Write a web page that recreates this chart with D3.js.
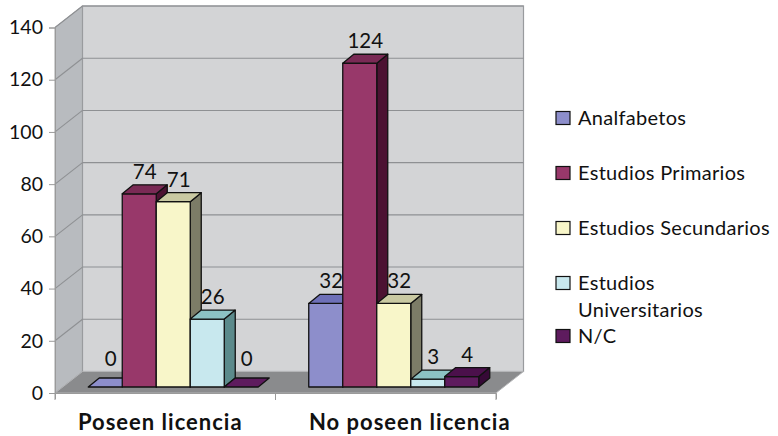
<!DOCTYPE html>
<html><head><meta charset="utf-8">
<script src="https://cdn.jsdelivr.net/npm/d3@7"></script>
<style>
html,body{margin:0;padding:0;background:#fff;}
svg{display:block;font-family:Lato,"Open Sans",sans-serif;}
</style></head>
<body><svg id="c" width="778" height="436"></svg>
<script>
const categories = ["Poseen licencia", "No poseen licencia"];
const seriesNames = ["Analfabetos", "Estudios Primarios", "Estudios Secundarios", "Estudios Universitarios", "N/C"];
const analfabetos = [0, 32];
const primarios = [74, 124];
const secundarios = [71, 32];
const universitarios = [26, 3];
const nc = [0, 4];
const yTicks = [0, 20, 40, 60, 80, 100, 120, 140];

const seriesValues = [analfabetos, primarios, secundarios, universitarios, nc];
const colors = [
  {front:"#8d8ecb", top:"#6e70b8", side:"#4f5090"},
  {front:"#98386a", top:"#7a2a55", side:"#4c1232"},
  {front:"#f8f6c9", top:"#c9c9a2", side:"#7c7c67"},
  {front:"#c8e8ee", top:"#8cc2c4", side:"#5b8a8b"},
  {front:"#5e1b5e", top:"#4b104b", side:"#360936"}
];

const svg = d3.select("#c");
const x0 = 55, x1 = 496;
const WX = 27.5, WY = -21.5;     // wall depth offset
const PX = 8, PY = -6;           // bar plane offset
const DX = 11, DY = -9;          // bar depth

const x = d3.scaleBand().domain(categories).range([x0, x1]);
const xs = d3.scaleBand().domain(seriesNames).range([-85, 85]);
const y = d3.scaleLinear().domain([0, 140]).range([393, 27.5]);

// side wall
svg.append("polygon")
  .attr("points", [[x0, y(140)], [x0+WX, y(140)+WY], [x0+WX, y(0)+WY], [x0, y(0)]].join(" "))
  .attr("fill", "#b8bbbf").attr("stroke", "#a0a2a5").attr("stroke-width", 1);
// back wall
svg.append("rect")
  .attr("x", x0+WX).attr("y", y(140)+WY)
  .attr("width", x1-x0).attr("height", y(0)-y(140))
  .attr("fill", "#d3d4d6").attr("stroke", "#999b9e").attr("stroke-width", 1.2);
// gridlines
yTicks.forEach(t => {
  if (t === 0) return;
  svg.append("line").attr("x1", x0+WX).attr("x2", x1+WX)
    .attr("y1", y(t)+WY).attr("y2", y(t)+WY)
    .attr("stroke", "#8e9093").attr("stroke-width", 1.1);
  svg.append("line").attr("x1", x0).attr("x2", x0+WX)
    .attr("y1", y(t)).attr("y2", y(t)+WY)
    .attr("stroke", "#8e9093").attr("stroke-width", 1.1);
});
// floor
svg.append("polygon")
  .attr("points", [[x0, y(0)], [x0+WX, y(0)+WY], [x1+WX, y(0)+WY], [x1, y(0)]].join(" "))
  .attr("fill", "#8a8b8d").attr("stroke", "#b4b5b7").attr("stroke-width", 1);

// y axis
const yAxis = d3.axisLeft(y).tickValues(yTicks).tickSize(6).tickPadding(6);
const ga = svg.append("g").attr("transform", `translate(${x0},0)`).call(yAxis);
ga.select(".domain").attr("stroke", "#9a9a9a");
ga.selectAll(".tick line").attr("stroke", "#9a9a9a");
ga.selectAll(".tick text").attr("font-size", 19.5).attr("fill", "#111").attr("font-family", "Lato");

// x axis
const xAxis = d3.axisBottom(x).tickSize(6).tickFormat("");
const gx = svg.append("g").attr("transform", `translate(0,${y(0)})`).call(xAxis);
gx.select(".domain").attr("stroke", "#9a9a9a");
gx.selectAll(".tick").remove();
[x0, (x0+x1)/2, x1].forEach(px => {
  gx.append("line").attr("x1", px).attr("x2", px).attr("y1", 0).attr("y2", 7).attr("stroke", "#9a9a9a");
});
const labelDx = [-5, 24];
categories.forEach((c, i) => {
  svg.append("text").attr("x", x(c) + x.bandwidth()/2 + labelDx[i]).attr("y", 430)
    .attr("text-anchor", "middle").attr("font-weight", "bold").attr("font-size", 22)
    .attr("letter-spacing", 1).attr("fill", "#111").text(c);
});

// bars
const bw = xs.bandwidth();
categories.forEach((c, ci) => {
  seriesNames.forEach((s, si) => {
    const v = seriesValues[si][ci];
    const col = colors[si];
    const lx = x(c) + x.bandwidth()/2 + xs(s) + PX;
    const rx = lx + bw;
    const by = y(0) + PY;
    const ty = y(v) + PY;
    const g = svg.append("g").attr("stroke", "#111").attr("stroke-width", 1.3).attr("stroke-linejoin", "round");
    if (v > 0) {
      g.append("polygon").attr("points", [[rx, by], [rx+DX, by+DY], [rx+DX, ty+DY], [rx, ty]].join(" ")).attr("fill", col.side);
      g.append("rect").attr("x", lx).attr("y", ty).attr("width", bw).attr("height", by - ty).attr("fill", col.front);
    }
    g.append("polygon").attr("points", [[lx, ty], [lx+DX, ty+DY], [rx+DX, ty+DY], [rx, ty]].join(" ")).attr("fill", v > 0 ? col.top : col.front);
    svg.append("text").attr("x", (lx + rx)/2 + DX/2).attr("y", ty + DY - (v === 0 ? 12 : 6))
      .attr("text-anchor", "middle").attr("font-size", 20.5).attr("fill", "#111").text(v);
  });
});

// legend
const legendRows = [
  {lines:["Analfabetos"], y:118},
  {lines:["Estudios Primarios"], y:173},
  {lines:["Estudios Secundarios"], y:228},
  {lines:["Estudios", "Universitarios"], y:283},
  {lines:["N/C"], y:336}
];
legendRows.forEach((r, i) => {
  svg.append("rect").attr("x", 556).attr("y", r.y - 6.5).attr("width", 14).attr("height", 13)
    .attr("fill", colors[i].front).attr("stroke", "#111").attr("stroke-width", 1.2);
  r.lines.forEach((ln, li) => {
    svg.append("text").attr("x", 578).attr("y", r.y + 7 + li*27)
      .attr("font-size", 20).attr("letter-spacing", 0.3).attr("fill", "#111").text(ln);
  });
});
</script></body></html>
